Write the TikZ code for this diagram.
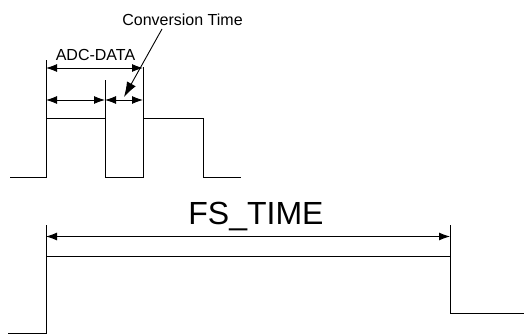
\documentclass[tikz,border=0pt]{standalone}
\usepackage{fontspec}
\setmainfont{Liberation Sans}
\usetikzlibrary{arrows.meta}
\tikzset{
  wave/.style={line width=0.9pt, line join=miter},
  ext/.style={line width=0.9pt},
  dim/.style={line width=0.9pt, {Latex[length=11pt,width=8pt]}-{Latex[length=11pt,width=8pt]}},
  lead/.style={line width=0.9pt, -{Latex[length=15pt,width=10pt]}},
  small/.style={font=\fontsize{16}{19}\selectfont, inner sep=0pt, anchor=base},
  big/.style={font=\fontsize{32}{38}\selectfont, inner sep=0pt, anchor=base}
}
\begin{document}
\begin{tikzpicture}[x=1pt,y=-1pt]
\useasboundingbox (0,0) rectangle (524,334);
% top waveforms
\draw[wave] (10,177) -- (46,177) -- (46,118) -- (105,118) -- (105,177) -- (143,177) -- (143,118) -- (203,118) -- (203,177) -- (241,177);
% extension lines
\draw[ext] (46,118) -- (46,60);
\draw[ext] (105,118) -- (105,80);
\draw[ext] (143,118) -- (143,67);
% coordinates
\coordinate (a1) at (46,68);
\coordinate (a2) at (143,68);
\coordinate (b1) at (46,100);
\coordinate (b2) at (105,100);
\coordinate (b3) at (143,100);
\draw[dim] (a1) -- (a2);
\draw[dim] (b1) -- (b2);
\draw[dim] (b2) -- (b3);
\node[small] (adc) at (95.5,60.7) {ADC-DATA};
\node[small] (conv) at (182.5,25.7) {Conversion Time};
\coordinate (ls) at (162,29);
\coordinate (le) at (124,97);
\draw[lead] (ls) -- (le);
% bottom waveform
\draw[wave] (8,333) -- (46,333) -- (46,256) -- (450,256) -- (450,313) -- (524,313);
\draw[ext] (46,256) -- (46,225);
\draw[ext] (450,256) -- (450,225);
\coordinate (f1) at (46,236.5);
\coordinate (f2) at (450,236.5);
\draw[dim] (f1) -- (f2);
\node[big] (fs) at (256,224.3) {FS\_TIME};
\end{tikzpicture}
\end{document}
